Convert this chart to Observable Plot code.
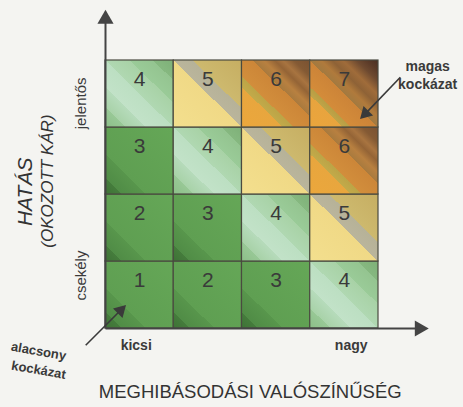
<!DOCTYPE html>
<html>
<head>
<meta charset="utf-8">
<script src="https://cdn.jsdelivr.net/npm/d3@7"></script>
<script src="https://cdn.jsdelivr.net/npm/@observablehq/plot@0.6"></script>
<style>
  html, body { margin: 0; padding: 0; background: #f4f4f1; }
  #chart svg { display: block; }
</style>
</head>
<body>
<div id="chart"></div>
<script>
// Likelihood categories (x) and impact categories (y), bottom to top
const likelihood = ["1", "2", "3", "4"];
const impact = ["1", "2", "3", "4"];
// Risk values per row, bottom row first
const riskRows = [
  [1, 2, 3, 4],
  [2, 3, 4, 5],
  [3, 4, 5, 6],
  [4, 5, 6, 7]
];
const riskLevels = [1, 2, 3, 4, 5, 6, 7];

// Axis tick labels
const xTickLabels = [{label: "kicsi", pos: 0.45}, {label: "nagy", pos: 3.6}];
const yTickLabels = [{label: "csekély", pos: 0.79}, {label: "jelentős", pos: 3.36}];
const xTitle = "MEGHIBÁSODÁSI VALÓSZÍNŰSÉG";
const yTitle = ["HATÁS", "(OKOZOTT KÁR)"];
const lowNote = ["alacsony", "kockázat"];
const highNote = ["magas", "kockázat"];

// Gradient palettes (offset, colour) per risk level
const greenStops = [[0, "#3e7236"], [0.12, "#457c3c"], [0.12, "#508c46"], [0.3, "#58964c"], [0.3, "#5f9f52"], [1, "#65a757"]];
const palettes = {
  1: greenStops, 2: greenStops, 3: greenStops,
  4: [[0, "#8cbf88"], [0.15, "#98c896"], [0.15, "#a8d2a8"], [0.3, "#b6dbbb"], [0.3, "#c2e2c8"], [0.5, "#bcdfc2"], [0.5, "#b0d8b2"], [0.68, "#a8d2a6"], [0.68, "#9acb98"], [0.85, "#94c490"], [0.85, "#86b880"], [1, "#7eb078"]],
  5: [[0, "#f3df8e"], [0.5, "#f0d986"], [0.5, "#bab59c"], [0.64, "#b6b298"], [0.64, "#cdb96e"], [1, "#c6ae62"]],
  6: [[0, "#eba73c"], [0.3, "#e8a63e"], [0.3, "#c2aa4a"], [0.38, "#bca446"], [0.38, "#d28e3c"], [0.58, "#cc8638"], [0.58, "#a87a3e"], [0.66, "#b88040"], [0.74, "#946436"], [0.8, "#a87440"], [0.88, "#845a34"], [1, "#7a5232"]],
  7: [[0, "#eba53c"], [0.24, "#e8a43e"], [0.24, "#c0a448"], [0.3, "#b89e44"], [0.3, "#d48c3a"], [0.5, "#cc8438"], [0.5, "#a27a40"], [0.58, "#b07a3c"], [0.66, "#8e6236"], [0.74, "#a06c3a"], [0.84, "#6e4a30"], [0.92, "#5a3a28"], [1, "#4a3024"]]
};

const cells = [];
riskRows.forEach((row, j) => row.forEach((v, i) => {
  cells.push({x1: i, x2: i + 1, y1: j, y2: j + 1, value: v, cx: i + 0.5, top: j + 1});
}));

const font = "'Liberation Sans Narrow', 'Liberation Sans', Arial, sans-serif";

const marks = [
  ...riskLevels.map(v => Plot.rect(cells.filter(d => d.value === v), {
    x1: "x1", x2: "x2", y1: "y1", y2: "y2", fill: `url(#risk${v})`, stroke: "#4a4a40", strokeWidth: 1.2
  })),
  Plot.text(cells, {x: "cx", y: "top", text: d => String(d.value), dy: 19, fontSize: 21, fill: "#3a3a3a", fontFamily: "'Liberation Sans', Arial, sans-serif"}),
  // axes
  Plot.link([{x1: 0, y1: 0, x2: 0, y2: 4.62}], {x1: "x1", y1: "y1", x2: "x2", y2: "y2", stroke: "#444", strokeWidth: 2}),
  Plot.link([{x1: 0, y1: 0, x2: 4.58, y2: 0}], {x1: "x1", y1: "y1", x2: "x2", y2: "y2", stroke: "#444", strokeWidth: 2}),
  Plot.dot([{x: 0, y: 4.62, r: 0}, {x: 4.6, y: 0, r: 90}], {x: "x", y: "y", symbol: "triangle", r: 6, rotate: "r", fill: "#444"}),
  // tick labels
  Plot.text(xTickLabels, {x: "pos", y: 0, text: "label", dy: 17, fontSize: 14, fontWeight: "bold", fill: "#3a3a3a", fontFamily: font}),
  Plot.text(yTickLabels, {x: 0, y: "pos", text: "label", dx: -24, rotate: -90, fontSize: 15, fill: "#3a3a3a", fontFamily: font}),
  // titles
  Plot.text([xTitle], {x: 2.12, y: -0.95, text: d => d, fontSize: 18.5, fill: "#333", fontFamily: font}),
  Plot.text(yTitle.map((t, k) => ({t, x: k === 0 ? -1.17 : -0.85, y: k === 0 ? 2.04 : 2.2, s: k === 0 ? 21 : 17})), {x: "x", y: "y", text: "t", rotate: -90, fontSize: "s", fontStyle: "italic", fill: "#333", fontFamily: font}),
  // notes
  Plot.text(lowNote.map((t, k) => ({t, x: -0.98, y: -0.34 - k * 0.28})), {x: "x", y: "y", text: "t", rotate: 10, fontSize: 13, fontWeight: "bold", fill: "#3a3a3a", fontFamily: font}),
  Plot.text(highNote.map((t, k) => ({t, x: 4.72, y: 3.91 - k * 0.27})), {x: "x", y: "y", text: "t", fontSize: 14, fontWeight: "bold", fill: "#3a3a3a", fontFamily: font}),
  // note arrows
  Plot.link([{x1: -0.29, y1: -0.25, x2: 0.2, y2: 0.25}, {x1: 4.32, y1: 3.75, x2: 3.84, y2: 3.24}], {x1: "x1", y1: "y1", x2: "x2", y2: "y2", stroke: "#3a3a3a", strokeWidth: 1.6}),
  Plot.dot([{x: 0.22, y: 0.27, r: 45}, {x: 3.81, y: 3.21, r: 225}], {x: "x", y: "y", symbol: "triangle", r: 5, rotate: "r", fill: "#3a3a3a"})
];

const chart = Plot.plot({
  width: 463,
  height: 407,
  marginLeft: 105,
  marginRight: 85,
  marginTop: 60,
  marginBottom: 79,
  x: {domain: [0, 4], axis: null},
  y: {domain: [0, 4], axis: null},
  style: {background: "#f4f4f1", overflow: "visible"},
  marks
});

const svg = d3.select(chart);
const defs = svg.insert("defs", ":first-child");
riskLevels.forEach(v => {
  const g = defs.append("linearGradient")
    .attr("id", `risk${v}`)
    .attr("x1", 0).attr("y1", 1).attr("x2", 1).attr("y2", 0);
  palettes[v].forEach(([o, c]) => g.append("stop").attr("offset", o).attr("stop-color", c));
});

document.getElementById("chart").appendChild(chart);
</script>
</body>
</html>
